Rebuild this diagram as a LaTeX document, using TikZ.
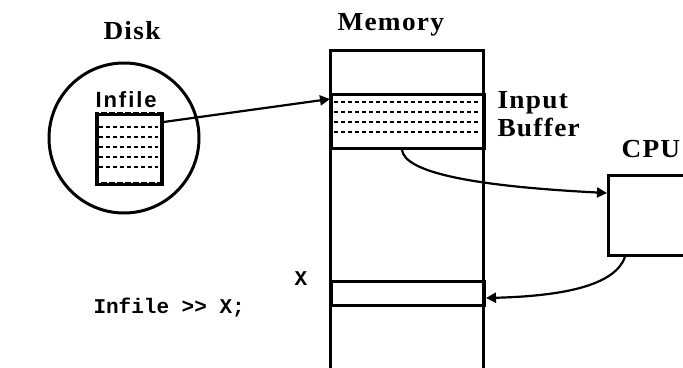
\documentclass[tikz,border=0pt]{standalone}
\usepackage{fontspec}
\usetikzlibrary{arrows.meta,calc}
\setmainfont{Liberation Serif}
\newfontfamily\lblfont{Liberation Serif}[FakeStretch=1.05,LetterSpace=5]
\newfontfamily\codefont{Liberation Mono}
\newfontfamily\infilefont{Liberation Sans}[LetterSpace=9]
\begin{document}
\begin{tikzpicture}[x=1pt,y=-1pt,line width=3pt,
  box/.style={draw,rectangle,inner sep=0pt,anchor=north west},
  arr/.style={-{Triangle[length=10pt,width=10pt]},line width=2.2pt},
  bufline/.style={line width=2pt,dash pattern=on 4pt off 3pt},
  lbl/.style={inner sep=0pt,anchor=base west,font=\lblfont\bfseries\fontsize{26}{28}\selectfont},
  code/.style={inner sep=0pt,anchor=base west,font=\codefont\bfseries\fontsize{21}{23}\selectfont}]
\useasboundingbox (0,0) rectangle (683,367);
\clip (0,0) rectangle (683,367);
% memory column
\draw (330,372) -- (330,50) -- (483,50) -- (483,372);
\node[box,minimum width=153pt,minimum height=54pt] (buf) at (330,93) {};
\foreach \yy in {102,112,122,132} \draw[bufline] (334,\yy) -- (480,\yy);
\node[box,minimum width=153pt,minimum height=24pt] (xcell) at (330,280) {};
% cpu
\node[box,minimum width=120pt,minimum height=80pt] (cpu) at (607,174) {};
% disk
\node[draw,circle,minimum size=150pt,inner sep=0pt] (disk) at (124,138) {};
\node[box,minimum width=65pt,minimum height=70pt,line width=3.5pt] (file) at (95,112) {};
\draw[white,line width=1.5pt,dash pattern=on 2pt off 6pt] (99,112) -- (158,112);
\draw[white,line width=1.5pt,dash pattern=on 2pt off 6pt] (99,182) -- (158,182);
\foreach \yy in {127,137,147,157,167} \draw[bufline] (99,\yy) -- (158,\yy);
% labels
\node[lbl] (tdisk) at (102,39) {Disk};
\node[lbl] (tmem) at (336,30) {Memory};
\node[lbl] (tin) at (496,108) {Input};
\node[lbl] (tbuf) at (496,136) {Buffer};
\node[lbl] (tcpu) at (620,157) {CPU};
\node[inner sep=0pt,anchor=base west,font=\infilefont\bfseries\fontsize{22}{24}\selectfont] (tinfile) at (94,107) {Infile};
\node[code] (tx) at (293,285) {X};
\node[code] (tcode) at (92,313) {Infile >> X;};
% connectors
\draw[arr] ([yshift=-10pt]file.north east) -- ([yshift=-6pt]buf.north west);
\draw[arr] ([xshift=72pt]buf.south west) .. controls (405,172) and (470,186) .. ([yshift=-19pt]cpu.north west);
\draw[arr] ([xshift=18pt]cpu.south west) .. controls (615,285) and (565,296) .. ([yshift=-18pt]xcell.north east);
\end{tikzpicture}
\end{document}
